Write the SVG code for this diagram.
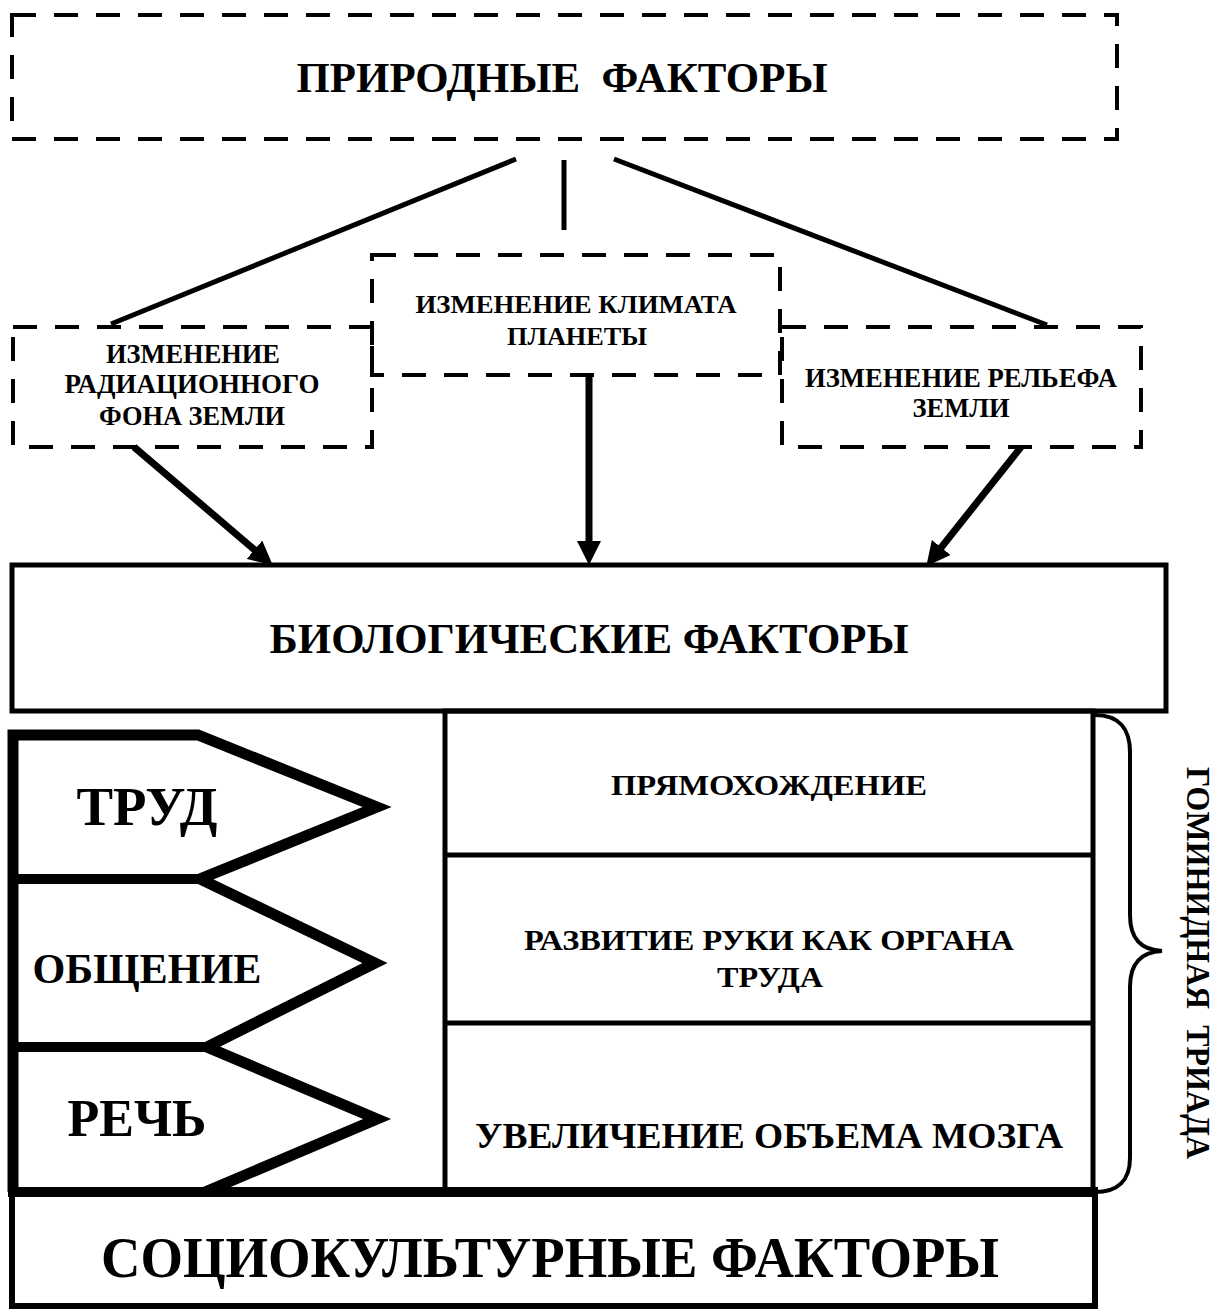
<svg xmlns="http://www.w3.org/2000/svg" width="1219" height="1310" viewBox="0 0 1219 1310">
<style>
text{font-family:"Liberation Serif","Times New Roman",serif;font-weight:bold;fill:#000;text-anchor:middle;white-space:pre}
.dash{fill:none;stroke:#000;stroke-width:4;stroke-dasharray:24 18}
.solid{fill:none;stroke:#000;stroke-width:5}
.thick{fill:none;stroke:#000;stroke-width:10;stroke-linejoin:miter}
.line{stroke:#000;stroke-width:5;fill:none}
.arrow{stroke:#000;stroke-width:7;fill:none;marker-end:url(#ah)}
</style>
<defs>
<marker id="ah" markerUnits="userSpaceOnUse" markerWidth="24" markerHeight="24" viewBox="0 0 24 24" refX="2" refY="12" orient="auto">
<path d="M0,0 L24,12 L0,24 z" fill="#000"/>
</marker>
</defs>
<rect width="1219" height="1310" fill="#fff"/>

<g id="natural">
<rect class="dash" x="12" y="15" width="1105" height="124"/>
<text x="562" y="92" font-size="43" textLength="531" lengthAdjust="spacingAndGlyphs">ПРИРОДНЫЕ  ФАКТОРЫ</text>
</g>

<g id="climate">
<rect class="dash" x="372" y="255" width="408" height="120"/>
<text x="576" y="313" font-size="26" textLength="321" lengthAdjust="spacingAndGlyphs">ИЗМЕНЕНИЕ КЛИМАТА</text>
<text x="577" y="345" font-size="26" textLength="140" lengthAdjust="spacingAndGlyphs">ПЛАНЕТЫ</text>
</g>

<g id="radiation">
<rect class="dash" x="13" y="327" width="359" height="120"/>
<text x="193" y="363" font-size="27" textLength="174" lengthAdjust="spacingAndGlyphs">ИЗМЕНЕНИЕ</text>
<text x="192" y="393" font-size="27" textLength="255" lengthAdjust="spacingAndGlyphs">РАДИАЦИОННОГО</text>
<text x="192" y="425" font-size="27" textLength="186" lengthAdjust="spacingAndGlyphs">ФОНА ЗЕМЛИ</text>
</g>

<g id="relief">
<rect class="dash" x="782" y="327" width="359" height="120"/>
<text x="961" y="387" font-size="27" textLength="312" lengthAdjust="spacingAndGlyphs">ИЗМЕНЕНИЕ РЕЛЬЕФА</text>
<text x="961" y="417" font-size="27" textLength="97" lengthAdjust="spacingAndGlyphs">ЗЕМЛИ</text>
</g>

<g id="connectors">
<line class="line" x1="516" y1="159" x2="111" y2="324"/>
<line class="line" x1="564" y1="160" x2="564" y2="230"/>
<line class="line" x1="614" y1="159" x2="1047" y2="325"/>
<line class="arrow" x1="134" y1="447" x2="256" y2="551"/>
<line class="arrow" x1="589" y1="375" x2="589" y2="543"/>
<line class="arrow" x1="1021" y1="447" x2="940" y2="549"/>
</g>

<g id="biological">
<rect class="solid" x="12" y="565" width="1154" height="146"/>
<text x="589" y="653" font-size="43" textLength="639" lengthAdjust="spacingAndGlyphs">БИОЛОГИЧЕСКИЕ ФАКТОРЫ</text>
</g>

<g id="triad-table">
<rect class="solid" x="445" y="711" width="648" height="480"/>
<line class="line" x1="445" y1="855" x2="1093" y2="855"/>
<line class="line" x1="445" y1="1023" x2="1093" y2="1023"/>
<text x="769" y="795" font-size="30" textLength="316" lengthAdjust="spacingAndGlyphs">ПРЯМОХОЖДЕНИЕ</text>
<text x="769" y="950" font-size="30" textLength="490" lengthAdjust="spacingAndGlyphs">РАЗВИТИЕ РУКИ КАК ОРГАНА</text>
<text x="770" y="987" font-size="30" textLength="106" lengthAdjust="spacingAndGlyphs">ТРУДА</text>
<text x="769" y="1148" font-size="35" textLength="588" lengthAdjust="spacingAndGlyphs">УВЕЛИЧЕНИЕ ОБЪЕМА МОЗГА</text>
</g>

<g id="social-column">
<path class="thick" d="M13,1192 L13,735 L198,735 L377,807 L200,879 L375,963 L207,1047 L377,1119 L205,1192" style="stroke-width:11"/>
<line class="thick" x1="13" y1="879" x2="200" y2="879"/>
<line class="thick" x1="13" y1="1047" x2="207" y2="1047"/>
<text x="147" y="825" font-size="54" textLength="141" lengthAdjust="spacingAndGlyphs">ТРУД</text>
<text x="147" y="983" font-size="43" textLength="229" lengthAdjust="spacingAndGlyphs">ОБЩЕНИЕ</text>
<text x="137" y="1136" font-size="53" textLength="139" lengthAdjust="spacingAndGlyphs">РЕЧЬ</text>
</g>

<g id="sociocultural">
<path class="solid" d="M12,1192 L12,1306 L1095,1306 L1095,1192" style="stroke-width:6"/>
<line class="thick" x1="8" y1="1192" x2="1098" y2="1192"/>
<text x="550" y="1277" font-size="57" textLength="898" lengthAdjust="spacingAndGlyphs">СОЦИОКУЛЬТУРНЫЕ ФАКТОРЫ</text>
</g>

<g id="brace">
<path d="M1095,715 C1120,715 1130,730 1130,752 L1130,915 C1130,940 1142,950 1162,951 C1142,952 1130,962 1130,987 L1130,1158 C1130,1180 1118,1192 1095,1192" fill="none" stroke="#000" stroke-width="4"/>
<text transform="translate(1187,963) rotate(90)" font-size="33" textLength="392" lengthAdjust="spacingAndGlyphs">ГОМИНИДНАЯ  ТРИАДА</text>
</g>
</svg>
